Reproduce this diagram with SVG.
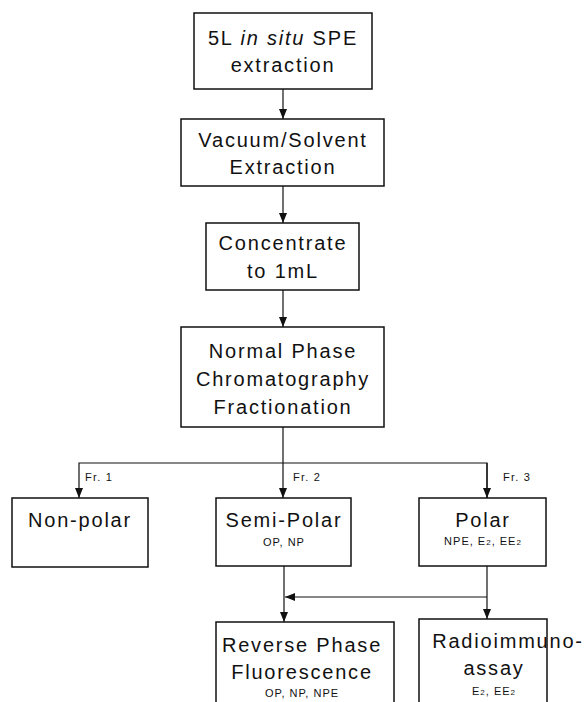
<svg xmlns="http://www.w3.org/2000/svg" width="588" height="702" viewBox="0 0 588 702">
<style>
.box{fill:#fff;stroke:#111;stroke-width:1.5}
.t{font-family:"Liberation Sans",Arial,sans-serif;font-size:20px;fill:#111;text-anchor:middle;letter-spacing:1.8px}
.s{font-family:"Liberation Sans",Arial,sans-serif;font-size:11px;fill:#111;text-anchor:middle;letter-spacing:1px}
.f{font-family:"Liberation Sans",Arial,sans-serif;font-size:11px;fill:#111;letter-spacing:1.2px}
.c{fill:none;stroke:#111;stroke-width:1.2}
.sub{font-size:8px}
</style>
<defs>
<marker id="ah" viewBox="0 0 10 8" refX="10" refY="4" markerWidth="10" markerHeight="8" markerUnits="userSpaceOnUse" orient="auto">
<path d="M0,0 L10,4 L0,8 z" fill="#111"/>
</marker>
</defs>
<rect width="588" height="702" fill="#fff"/>
<g id="connectors">
<line class="c" x1="283" y1="89" x2="283" y2="119" marker-end="url(#ah)"/>
<line class="c" x1="283" y1="186" x2="283" y2="223" marker-end="url(#ah)"/>
<line class="c" x1="283" y1="290" x2="283" y2="327" marker-end="url(#ah)"/>
<line class="c" x1="283" y1="427" x2="283" y2="498" marker-end="url(#ah)"/>
<polyline class="c" points="487,498 487,463 79,463 79,498" marker-end="url(#ah)"/>
<line class="c" x1="487" y1="463" x2="487" y2="498" marker-end="url(#ah)"/>
<line class="c" x1="284" y1="566" x2="284" y2="622" marker-end="url(#ah)"/>
<line class="c" x1="487" y1="566" x2="487" y2="619" marker-end="url(#ah)"/>
<line class="c" x1="487" y1="597" x2="285" y2="597" marker-end="url(#ah)"/>
<text class="f" x="85" y="481">Fr. 1</text>
<text class="f" x="293" y="481">Fr. 2</text>
<text class="f" x="503" y="481">Fr. 3</text>
</g>
<g id="spe">
<rect class="box" x="194" y="13" width="178" height="76"/>
<text class="t" x="283" y="45">5L <tspan font-style="italic">in situ</tspan> SPE</text>
<text class="t" x="283" y="72">extraction</text>
</g>
<g id="vacuum">
<rect class="box" x="181" y="119" width="203" height="67"/>
<text class="t" x="283" y="147">Vacuum/Solvent</text>
<text class="t" x="283" y="174">Extraction</text>
</g>
<g id="concentrate">
<rect class="box" x="206" y="223" width="153" height="67"/>
<text class="t" x="283" y="250">Concentrate</text>
<text class="t" x="283" y="278">to 1mL</text>
</g>
<g id="normal-phase">
<rect class="box" x="181" y="327" width="203" height="100"/>
<text class="t" x="283" y="358">Normal Phase</text>
<text class="t" x="283" y="386">Chromatography</text>
<text class="t" x="283" y="414">Fractionation</text>
</g>
<g id="non-polar">
<rect class="box" x="12" y="498" width="136" height="69"/>
<text class="t" x="80" y="527">Non-polar</text>
</g>
<g id="semi-polar">
<rect class="box" x="216" y="498" width="135" height="68"/>
<text class="t" x="284" y="527">Semi-Polar</text>
<text class="s" x="284" y="546">OP, NP</text>
</g>
<g id="polar">
<rect class="box" x="419" y="498" width="127" height="68"/>
<text class="t" x="483" y="527">Polar</text>
<text class="s" x="483" y="545">NPE, E<tspan class="sub">2</tspan>, EE<tspan class="sub">2</tspan></text>
</g>
<g id="reverse-phase">
<rect class="box" x="216" y="622" width="178" height="90"/>
<text class="t" x="302" y="652">Reverse Phase</text>
<text class="t" x="302" y="679">Fluorescence</text>
<text class="s" x="302" y="697">OP, NP, NPE</text>
</g>
<g id="radioimmunoassay">
<rect class="box" x="419" y="619" width="128" height="93"/>
<text class="t" x="508" y="648">Radioimmuno-</text>
<text class="t" x="494" y="675">assay</text>
<text class="s" x="494" y="695">E<tspan class="sub">2</tspan>, EE<tspan class="sub">2</tspan></text>
</g>
</svg>
